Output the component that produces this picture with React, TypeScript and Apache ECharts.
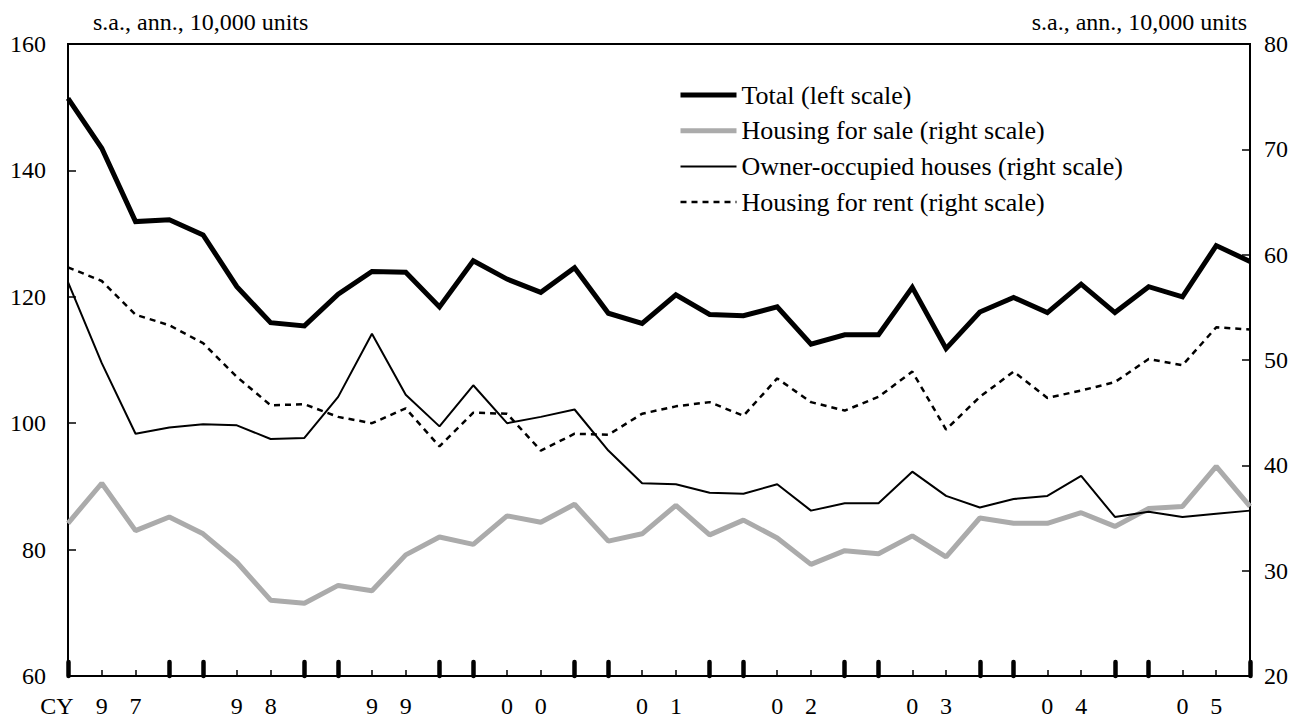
import React, { useEffect, useRef } from "react";
import * as echarts from "echarts";

const categories = [
  "1997Q1", "1997Q2", "1997Q3", "1997Q4",
  "1998Q1", "1998Q2", "1998Q3", "1998Q4",
  "1999Q1", "1999Q2", "1999Q3", "1999Q4",
  "2000Q1", "2000Q2", "2000Q3", "2000Q4",
  "2001Q1", "2001Q2", "2001Q3", "2001Q4",
  "2002Q1", "2002Q2", "2002Q3", "2002Q4",
  "2003Q1", "2003Q2", "2003Q3", "2003Q4",
  "2004Q1", "2004Q2", "2004Q3", "2004Q4",
  "2005Q1", "2005Q2", "2005Q3", "2005Q4",
];

// tick labels shown under the axis (one character per point)
const xTickLabels = [
  "CY", "9", "7", "",
  "", "9", "8", "",
  "", "9", "9", "",
  "", "0", "0", "",
  "", "0", "1", "",
  "", "0", "2", "",
  "", "0", "3", "",
  "", "0", "4", "",
  "", "0", "5", "",
];

const totalLeft = [
  151.4, 143.5, 131.9, 132.2, 129.8, 121.6, 115.9, 115.4, 120.4, 124.0, 123.9, 118.4,
  125.7, 122.8, 120.7, 124.6, 117.4, 115.8, 120.3, 117.2, 117.0, 118.4, 112.5, 114.0,
  114.0, 121.5, 111.8, 117.6, 119.9, 117.5, 122.0, 117.5, 121.6, 120.0, 128.1, 125.6,
];

const housingForSale = [
  34.5, 38.3, 33.8, 35.1, 33.5, 30.8, 27.2, 26.9, 28.6, 28.1, 31.5, 33.2,
  32.5, 35.2, 34.6, 36.3, 32.8, 33.5, 36.2, 33.4, 34.8, 33.1, 30.6, 31.9,
  31.6, 33.3, 31.3, 35.0, 34.5, 34.5, 35.5, 34.2, 35.9, 36.1, 39.9, 36.1,
];

const ownerOccupied = [
  57.4, 49.7, 43.0, 43.6, 43.9, 43.8, 42.5, 42.6, 46.5, 52.5, 46.7, 43.7,
  47.6, 44.0, 44.6, 45.3, 41.4, 38.3, 38.2, 37.4, 37.3, 38.2, 35.7, 36.4,
  36.4, 39.4, 37.1, 36.0, 36.8, 37.1, 39.0, 35.1, 35.6, 35.1, 35.4, 35.7,
];

const housingForRent = [
  58.8, 57.5, 54.3, 53.3, 51.6, 48.4, 45.7, 45.8, 44.6, 44.0, 45.4, 41.8,
  45.0, 44.9, 41.4, 43.0, 42.9, 44.9, 45.6, 46.0, 44.7, 48.25, 46.0, 45.2,
  46.5, 48.9, 43.4, 46.5, 48.9, 46.4, 47.1, 47.9, 50.1, 49.5, 53.1, 52.9,
];

const seriesNames = [
  "Total (left scale)",
  "Housing for sale (right scale)",
  "Owner-occupied houses (right scale)",
  "Housing for rent (right scale)",
];

const unitLabel = "s.a., ann., 10,000 units";
const FONT = "'Liberation Serif', 'Times New Roman', serif";

export default function App() {
  const ref = useRef<HTMLDivElement>(null);

  useEffect(() => {
    if (!ref.current) return;
    const chart = echarts.init(ref.current, undefined, { renderer: "svg" });
    const option: any = {
      animation: false,
      backgroundColor: "#ffffff",
      textStyle: { fontFamily: FONT, color: "#000" },
      grid: {
        left: 68,
        right: 52,
        top: 44,
        bottom: 46,
        show: true,
        borderColor: "#000",
        borderWidth: 2,
        backgroundColor: "transparent",
      },
      legend: {
        show: true,
        orient: "vertical",
        left: 678,
        top: 82,
        padding: 0,
        itemWidth: 56,
        itemHeight: 20,
        itemGap: 9.7,
        selectedMode: false,
        itemStyle: { opacity: 0 },
        lineStyle: { width: "inherit", type: "inherit" },
        textStyle: { fontFamily: FONT, fontSize: 26, color: "#000", lineHeight: 26 },
        data: seriesNames,
      },
      xAxis: [
        {
          type: "category",
          data: categories,
          boundaryGap: false,
          position: "bottom",
          axisLine: { show: true, lineStyle: { color: "#000", width: 2 } },
          axisTick: {
            show: true,
            interval: 0,
            inside: true,
            length: 6,
            lineStyle: { color: "#000", width: 1.5 },
          },
          axisLabel: {
            show: true,
            interval: 0,
            margin: 18,
            fontFamily: FONT,
            fontSize: 24,
            color: "#000",
            formatter: (_v: string, i: number) =>
              i === 0 ? "{cy|" + xTickLabels[i] + "}" : xTickLabels[i],
            rich: {
              cy: { fontFamily: FONT, fontSize: 24, color: "#000", padding: [0, 22, 0, 0] },
            },
          },
          splitLine: { show: false },
        },
        {
          type: "category",
          data: categories,
          boundaryGap: false,
          position: "bottom",
          axisLine: { show: false },
          axisTick: {
            show: true,
            interval: (i: number) => i % 4 === 0 || i % 4 === 3,
            inside: true,
            length: 14,
            lineStyle: { color: "#000", width: 4.5, cap: "round" },
          },
          axisLabel: { show: false },
          splitLine: { show: false },
        },
      ],
      yAxis: [
        {
          type: "value",
          min: 60,
          max: 160,
          interval: 20,
          position: "left",
          name: unitLabel,
          nameLocation: "end",
          nameGap: 10,
          nameTextStyle: {
            fontFamily: FONT,
            fontSize: 24,
            color: "#000",
            align: "left",
            padding: [0, 0, 0, 25],
          },
          axisLine: { show: true, lineStyle: { color: "#000", width: 2 } },
          axisTick: { show: true, inside: true, length: 8, lineStyle: { color: "#000", width: 1.5 } },
          axisLabel: { margin: 22, fontFamily: FONT, fontSize: 24, color: "#000" },
          splitLine: { show: false },
        },
        {
          type: "value",
          min: 20,
          max: 80,
          interval: 10,
          position: "right",
          name: unitLabel,
          nameLocation: "end",
          nameGap: 10,
          nameTextStyle: {
            fontFamily: FONT,
            fontSize: 24,
            color: "#000",
            align: "right",
            padding: [0, 3, 0, 0],
          },
          axisLine: { show: true, lineStyle: { color: "#000", width: 2 } },
          axisTick: { show: true, inside: true, length: 8, lineStyle: { color: "#000", width: 1.5 } },
          axisLabel: { margin: 14, fontFamily: FONT, fontSize: 24, color: "#000" },
          splitLine: { show: false },
        },
      ],
      series: [
        {
          name: seriesNames[0],
          type: "line",
          xAxisIndex: 0,
          yAxisIndex: 0,
          data: totalLeft,
          symbol: "none",
          z: 5,
          lineStyle: { color: "#000", width: 5, join: "miter" },
          itemStyle: { color: "#000" },
        },
        {
          name: seriesNames[1],
          type: "line",
          xAxisIndex: 0,
          yAxisIndex: 1,
          data: housingForSale,
          symbol: "none",
          z: 3,
          lineStyle: { color: "#ababab", width: 5 },
          itemStyle: { color: "#ababab" },
        },
        {
          name: seriesNames[2],
          type: "line",
          xAxisIndex: 0,
          yAxisIndex: 1,
          data: ownerOccupied,
          symbol: "none",
          z: 4,
          lineStyle: { color: "#000", width: 2 },
          itemStyle: { color: "#000" },
        },
        {
          name: seriesNames[3],
          type: "line",
          xAxisIndex: 0,
          yAxisIndex: 1,
          data: housingForRent,
          symbol: "none",
          z: 4,
          lineStyle: { color: "#000", width: 2.5, type: [6, 5] },
          itemStyle: { color: "#000" },
        },
      ],
    };
    chart.setOption(option);
    return () => {
      chart.dispose();
    };
  }, []);

  return (
    <div
      ref={ref}
      style={{ position: "fixed", left: 0, top: 0, width: 1302, height: 722, background: "#fff" }}
    />
  );
}
